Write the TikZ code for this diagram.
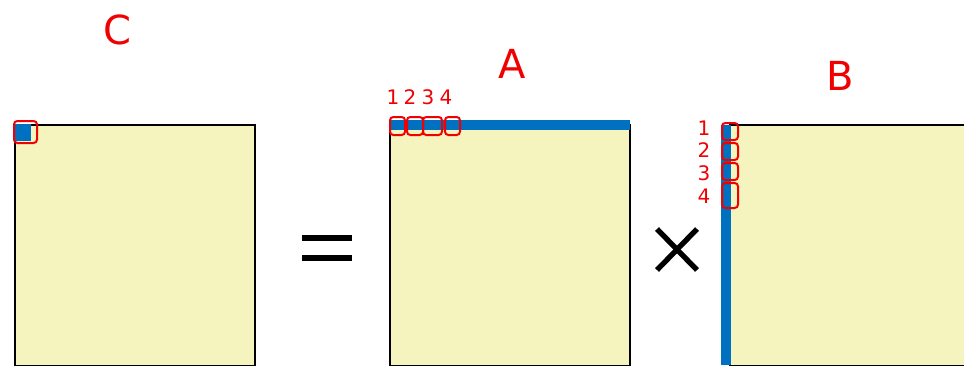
\documentclass[tikz,border=0pt]{standalone}
\usepackage{fontspec}
\setmainfont{DejaVu Sans}
\definecolor{padyellow}{RGB}{245,244,190}
\definecolor{barblue}{RGB}{0,112,192}
\definecolor{inkred}{RGB}{240,0,0}
\begin{document}
\begin{tikzpicture}[x=0.75pt,y=-0.75pt,
  matrixbox/.style={draw=black,line width=0.8pt,fill=padyellow},
  bluebar/.style={fill=barblue,draw=none},
  redmark/.style={draw=inkred,line width=1.5pt,rounded corners=2.5pt},
  biglabel/.style={text=inkred,font=\fontsize{30}{30}\selectfont,inner sep=0pt},
  idxlabel/.style={text=inkred,font=\fontsize{15}{15}\selectfont,inner sep=0pt},
  opsign/.style={line width=4pt,black}]
\useasboundingbox (0,0) rectangle (964,365);
% matrices
\path[matrixbox] (15,125) rectangle (255,366);
\path[matrixbox] (390,125) rectangle (630,366);
\path[matrixbox] (730,125) rectangle (966,366);
% blue marks
\path[bluebar] (15,124) rectangle (31,141);
\path[bluebar] (390,120) rectangle (630,130);
\path[bluebar] (721,125) rectangle (731,365);
% labels
\node[biglabel] (lC) at (117,30) {C};
\node[biglabel] (lA) at (512,64) {A};
\node[biglabel] (lB) at (840,76) {B};
% operators
\draw[opsign] (302,238) -- (352,238);
\draw[opsign] (302,258) -- (352,258);
\draw[opsign] (657,229) -- (697,270);
\draw[opsign] (657,270) -- (697,229);
% red highlight marks
\draw[redmark] (14,121) rectangle (37,143);
\foreach \xa/\xb [count=\i] in {390/405,407/423,423/442,445/460}{
  \draw[redmark] (\xa,117) rectangle (\xb,135);
}
\foreach \i/\x in {1/393,2/410,3/428,4/446}{
  \node[idxlabel] (ta\i) at (\x,97) {\i};
}
\foreach \ya/\yb [count=\i] in {123/140,143/160,163/180,183/208}{
  \draw[redmark] (722,\ya) rectangle (738,\yb);
}
\foreach \i/\y in {1/128,2/150,3/173,4/196}{
  \node[idxlabel] (tb\i) at (704,\y) {\i};
}
\end{tikzpicture}
\end{document}
